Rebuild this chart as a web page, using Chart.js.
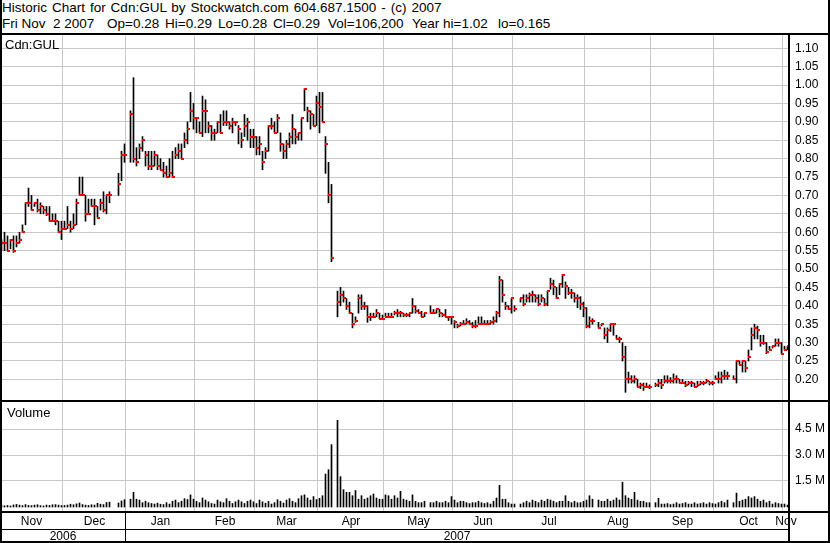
<!DOCTYPE html>
<html><head><meta charset="utf-8">
<script src="https://cdn.jsdelivr.net/npm/chart.js@4.4.1/dist/chart.umd.min.js"></script>
<style>
html,body{margin:0;padding:0;background:#fff;}
#wrap{position:relative;width:830px;height:543px;overflow:hidden;background:#fff;font-family:"Liberation Sans",Arial,sans-serif;}
.t{position:absolute;white-space:pre;color:#000;font-size:13.5px;line-height:16px;}
.ln{position:absolute;background:#000;}
canvas{position:absolute;left:0;}
</style></head><body>
<div id="wrap">
 <div class="t" id="h1" style="left:2px;top:0px">Historic Chart for Cdn:GUL by Stockwatch.com 604.687.1500 - (c) 2007</div>
 <div class="t" style="left:2px;top:16px">Fri Nov  2 2007</div>
 <div class="t" style="left:107px;top:16px">Op=0.28</div>
 <div class="t" style="left:165px;top:16px">Hi=0.29</div>
 <div class="t" style="left:218px;top:16px">Lo=0.28</div>
 <div class="t" style="left:273px;top:16px">Cl=0.29</div>
 <div class="t" style="left:328px;top:16px">Vol=106,200</div>
 <div class="t" style="left:412px;top:16px">Year hi=1.02</div>
 <div class="t" style="left:498px;top:16px">lo=0.165</div>
 <canvas id="pc" width="830" height="365" style="top:35px"></canvas>
 <canvas id="vc" width="830" height="141" style="top:402px"></canvas>
 <div class="t" style="left:5px;top:37px;font-size:13px">Cdn:GUL</div>
 <div class="t" style="left:7px;top:405px;font-size:13px">Volume</div>
 <div class="ln" style="left:0;top:33px;width:830px;height:2px"></div>
 <div class="ln" style="left:0;top:400px;width:830px;height:2px"></div>
 <div class="ln" style="left:0;top:511px;width:830px;height:2px"></div>
 <div class="ln" style="left:0;top:529px;width:790px;height:1px"></div>
 <div class="ln" style="left:0;top:541px;width:830px;height:2px"></div>
 <div class="ln" style="left:0;top:0;width:2px;height:543px"></div>
 <div class="ln" style="left:788px;top:33px;width:2px;height:510px"></div>
 <div class="ln" style="left:828px;top:0;width:2px;height:543px"></div>
</div>
<script>
// ---- data (one slot per weekday, null = market holiday) ----
const hi = [
 .58,.60,.59,.58,.59,.59,.60,.62,.68,.72,.70,.68,.69,.68,.67,.67,.67,.65,.65,.63,.63,
 .63,.67,.63,.65,.69,.75,.75,.70,.69,.69,.69,.67,.69,.71,.70,.71,null,null,.76,.82,.84,
 null,.93,1.02,.83,.84,.86,.82,.82,.82,.82,.81,.80,.79,.78,.80,.82,.83,.84,.84,.87,.90,.98,.95,
 .91,.90,.97,.96,.90,.89,.88,.90,.92,.93,.93,.90,.91,.90,.89,.87,.92,.91,.88,.88,
 .86,.86,.82,.83,.89,.91,.90,.92,.87,.84,.85,.87,.92,.88,.87,.91,.99,.94,.93,.92,.97,
 .98,.98,.86,.79,.73,null,.44,.45,.44,.42,.41,.38,.37,.43,.43,.41,.40,.38,.38,.39,.38,.375,
 .38,.38,.38,.385,.39,.385,.38,.38,.38,.42,.40,.39,.385,.38,null,.40,.39,.39,.39,.38,.39,.37,.37,
 .36,.35,.355,.36,.365,.36,.355,.36,.37,.37,.36,.36,.36,.37,.385,.48,.47,.41,.40,.42,
 .40,null,.42,.43,.43,.435,.44,.43,.43,.43,.42,.44,.475,.47,.45,.46,.485,.465,.45,.445,.435,.43,.425,.41,
 .395,.37,.365,null,.355,.35,.34,.34,.35,.35,.32,.315,.30,.29,.22,.21,.21,.20,.19,.19,.19,.185,
 null,.19,.20,.20,.21,.21,.205,.215,.21,.20,.20,.195,.195,.195,.19,.195,.195,.195,.20,.195,.195,
 .21,.22,.22,.225,.22,null,.21,.25,.25,.25,.25,.28,.34,.35,.345,.32,.32,.30,.29,.29,.31,.31,.30,
 .29,.29
];
const lo = [
 .55,.55,.55,.555,.545,.56,.57,.60,.62,.67,.66,.67,.655,.65,.65,.645,.63,.63,.62,.60,.58,
 .61,.61,.60,.61,.62,.70,.70,.63,.65,.67,.62,.64,.66,.655,.65,.68,null,null,.70,.74,.79,
 null,.79,.79,.78,.80,.82,.78,.77,.77,.78,.77,.77,.75,.75,.75,.75,.80,.80,.80,.83,.84,.90,.88,
 .87,.87,.86,.87,.87,.85,.85,.87,.87,.89,.89,.88,.87,.89,.84,.83,.86,.85,.83,.83,
 .81,.81,.77,.80,.82,.88,.87,.87,.82,.80,.80,.83,.84,.84,.85,.85,.93,.90,.88,.89,.89,
 .87,.90,.76,.68,.52,null,.37,.40,.41,.39,.38,.34,.355,.38,.39,.39,.355,.36,.37,.37,.365,.365,
 .37,.37,.37,.375,.37,.37,.37,.37,.37,.38,.38,.38,.37,.37,null,.38,.38,.38,.37,.37,.37,.36,.35,
 .34,.34,.345,.35,.35,.35,.34,.34,.35,.35,.35,.35,.35,.35,.355,.37,.41,.39,.39,.38,
 .385,null,.41,.40,.41,.41,.41,.41,.40,.41,.40,.40,.445,.43,.42,.43,.45,.42,.43,.42,.41,.395,.39,.37,
 .34,.34,.35,null,.34,.345,.31,.30,.33,.32,.31,.30,.25,.165,.19,.19,.19,.18,.175,.17,.18,.175,
 null,.18,.18,.175,.19,.19,.19,.19,.19,.19,.19,.18,.185,.18,.18,.18,.185,.185,.19,.185,.185,
 .20,.19,.19,.20,.20,null,.20,.19,.24,.22,.22,.25,.28,.31,.31,.29,.295,.27,.28,.285,.29,.29,.27,
 .28,.28
];
const cl = [
 .57,.57,.55,.58,.55,.57,.58,.60,.68,.68,.66,.68,.66,.67,.66,.65,.63,.63,.63,.60,.61,
 .61,.62,.61,.62,.68,.70,.70,.65,.65,.67,.67,.64,.68,.66,.70,.70,null,null,.73,.81,.81,
 null,.92,.80,.79,.83,.85,.81,.78,.78,.81,.78,.77,.76,.75,.76,.75,.81,.82,.80,.85,.88,.93,.91,
 .91,.87,.93,.93,.89,.87,.87,.90,.87,.90,.90,.89,.90,.90,.88,.85,.89,.90,.86,.86,
 .83,.84,.79,.82,.89,.89,.87,.91,.84,.82,.84,.86,.88,.86,.87,.91,.99,.93,.92,.89,.95,
 .94,.90,.84,.70,.53,null,.41,.43,.42,.40,.38,.35,.36,.42,.40,.40,.37,.37,.37,.38,.365,.365,
 .37,.37,.37,.38,.38,.38,.375,.375,.38,.40,.385,.38,.37,.38,null,.38,.38,.39,.38,.375,.37,.37,.37,
 .355,.345,.35,.35,.355,.35,.345,.345,.35,.35,.35,.35,.355,.36,.38,.47,.43,.40,.39,.42,
 .39,null,.42,.405,.42,.43,.43,.42,.405,.42,.405,.44,.46,.45,.42,.46,.485,.455,.435,.435,.42,.42,.405,.395,
 .345,.36,.36,null,.34,.35,.32,.335,.35,.35,.31,.31,.26,.20,.20,.195,.20,.18,.185,.18,.18,.18,
 null,.185,.19,.185,.195,.195,.195,.20,.20,.19,.19,.185,.19,.19,.18,.185,.19,.19,.195,.19,.19,
 .20,.20,.21,.21,.21,null,.20,.25,.24,.25,.23,.26,.32,.34,.335,.30,.30,.275,.28,.29,.30,.30,.27,
 .28,.29
];
// volume in thousands of shares
const vol = [
 110,70,90,60,120,150,110,80,140,90,80,110,130,80,60,110,90,130,140,110,80,
 90,110,160,130,180,230,140,110,90,130,110,210,160,140,260,280,null,null,230,350,420,
 null,450,850,450,400,250,330,250,200,170,220,160,140,250,170,330,400,250,330,480,430,700,450,
 330,250,520,400,300,200,170,400,300,250,480,330,200,300,400,300,200,330,400,300,
 200,400,300,220,330,170,250,420,330,230,400,480,330,250,480,650,700,520,400,600,430,
 500,650,1900,2150,3600,null,5000,1750,1000,850,850,650,950,450,650,450,520,650,750,520,450,450,
 700,650,450,650,520,900,450,400,330,700,330,250,250,330,null,250,250,330,250,250,330,250,600,
 400,250,330,330,250,200,250,250,330,250,200,250,170,330,520,1250,450,450,250,170,
 170,null,170,250,330,250,400,330,250,400,330,450,400,330,250,330,330,650,330,250,330,250,250,330,
 400,650,450,null,400,330,330,450,330,400,520,400,1430,650,520,450,850,400,330,330,250,250,
 null,250,500,170,170,200,140,170,250,170,200,250,170,170,250,170,200,250,170,250,200,
 170,250,330,250,400,null,250,800,330,400,450,600,520,600,450,330,400,250,330,170,250,200,170,
 170,106
];
const monthNames = ['Nov','Dec','Jan','Feb','Mar','Apr','May','Jun','Jul','Aug','Sep','Oct','Nov'];
const monthStart = [0,21,42,65,85,106,128,151,171,195,217,238,261]; // first slot of each month
const yearNames = ['2006','2007'];
const yearStart = [0,42];
const priceTicks = [1.10,1.05,1.00,0.95,0.90,0.85,0.80,0.75,0.70,0.65,0.60,0.55,0.50,0.45,0.40,0.35,0.30,0.25,0.20];
const volTicks = [1500,3000,4500]; // thousands
const volTickLabels = ['1.5 M','3.0 M','4.5 M'];

// stretch first header line (word spacing) to the width it has in the original
(function(){
  const el=document.getElementById('h1');
  const c=document.createElement('canvas').getContext('2d');
  c.font='13.5px "Liberation Sans"';
  const txt=el.textContent, w=c.measureText(txt).width, n=(txt.match(/ /g)||[]).length;
  const target=440;
  if(w<target) el.style.wordSpacing=((target-w)/n).toFixed(2)+'px';
})();

const N = hi.length;
const XMIN = -0.5, XMAX = 262.17;
const GRID = '#c8c8c8';
const FONT = {family:'"Liberation Sans", Arial, sans-serif', size:12};
const bounds = monthStart.slice(1).map(s => s - 0.5);

// red close tick: small 3x2 marker to the right of each bar
const tick = document.createElement('canvas');
tick.width = 3; tick.height = 2;
(function(){const g=tick.getContext('2d'); g.fillStyle='#ff0000'; g.fillRect(0,0,3,2);})();

function noPad(s){ s.paddingLeft=0; s.paddingRight=0; s.paddingTop=0; s.paddingBottom=0; }

function gridX(extra){
  return Object.assign({type:'linear',min:XMIN,max:XMAX,position:'bottom',offset:false,
    grid:{color:GRID,lineWidth:1,drawTicks:false,offset:false},border:{display:false},
    ticks:{display:false},
    afterBuildTicks:s=>{s.ticks = bounds.map(v=>({value:v}));},
    afterFit:s=>{s.height=0;noPad(s);}
  },extra||{});
}

const barData = [], closeData = [], volData = [];
for(let i=0;i<N;i++){
  if(hi[i]!=null){ barData.push({x:i,y:[lo[i],hi[i]]}); closeData.push({x:i+1/3,y:cl[i]}); }
  if(vol[i]!=null){ volData.push({x:i,y:vol[i]}); }
}

Chart.defaults.font.family = FONT.family;
Chart.defaults.color = '#000';

new Chart(document.getElementById('pc'),{
  type:'bar',
  data:{datasets:[
    {type:'bar',data:barData,backgroundColor:'#000',barThickness:1,grouped:false,order:2,minBarLength:1},
    {type:'scatter',data:closeData,pointStyle:tick,pointRadius:2,pointHoverRadius:0,order:1}
  ]},
  options:{responsive:false,animation:false,devicePixelRatio:1,events:[],
    layout:{padding:0,autoPadding:false},
    plugins:{legend:{display:false},tooltip:{enabled:false}},
    scales:{
      x:gridX(),
      y:{type:'linear',position:'right',min:0.144,max:1.136,
        grid:{color:GRID,lineWidth:1,drawTicks:false},border:{display:false},
        ticks:{font:FONT,color:'#000',padding:7,callback:v=>v.toFixed(2)},
        afterBuildTicks:s=>{s.ticks = priceTicks.map(v=>({value:v}));},
        afterFit:s=>{s.width=42;noPad(s);}
      }
    }
  }
});

const yearSep = {
  id:'yearSep',
  afterDraw(c){
    const ctx=c.ctx, xs=c.scales.x, a=c.chartArea;
    ctx.save(); ctx.fillStyle='#000';
    for(let k=1;k<yearStart.length;k++){
      const px=Math.round(xs.getPixelForValue(yearStart[k]-0.5));
      ctx.fillRect(px-1,a.bottom,1,c.height-a.bottom);
    }
    ctx.restore();
  }
};

function labelAxis(names, starts, weight, height, pad, endVal){
  return {type:'linear',min:XMIN,max:XMAX,position:'bottom',weight:weight,offset:false,
    grid:{display:false,drawTicks:false},border:{display:false},
    ticks:{font:FONT,color:'#000',padding:pad,autoSkip:false,maxRotation:0,
      callback:(v,i)=>names[i]},
    afterBuildTicks:s=>{s.ticks = names.map((m,k)=>{
      const a=starts[k]-0.5, b=(k+1<starts.length?starts[k+1]-0.5:endVal);
      return {value:(a+b)/2};});},
    afterFit:s=>{s.height=height;noPad(s);}
  };
}

new Chart(document.getElementById('vc'),{
  type:'bar',
  data:{datasets:[{data:volData,backgroundColor:'#000',barThickness:1,grouped:false}]},
  options:{responsive:false,animation:false,devicePixelRatio:1,events:[],
    layout:{padding:0,autoPadding:false},
    plugins:{legend:{display:false},tooltip:{enabled:false}},
    scales:{
      x:gridX({weight:0}),
      xm:labelAxis(monthNames, monthStart, 1, 17, 3, N-0.5),
      xy:labelAxis(yearNames, yearStart, 2, 15, 1, XMAX),
      y:{type:'linear',position:'right',min:-231,max:6058,
        grid:{color:GRID,lineWidth:1,drawTicks:false},border:{display:false},
        ticks:{font:FONT,color:'#000',padding:7,callback:(v,i)=>volTickLabels[i]},
        afterBuildTicks:s=>{s.ticks = volTicks.map(v=>({value:v}));},
        afterFit:s=>{s.width=42;noPad(s);}
      }
    }
  },
  plugins:[yearSep]
});
</script>
</body></html>
